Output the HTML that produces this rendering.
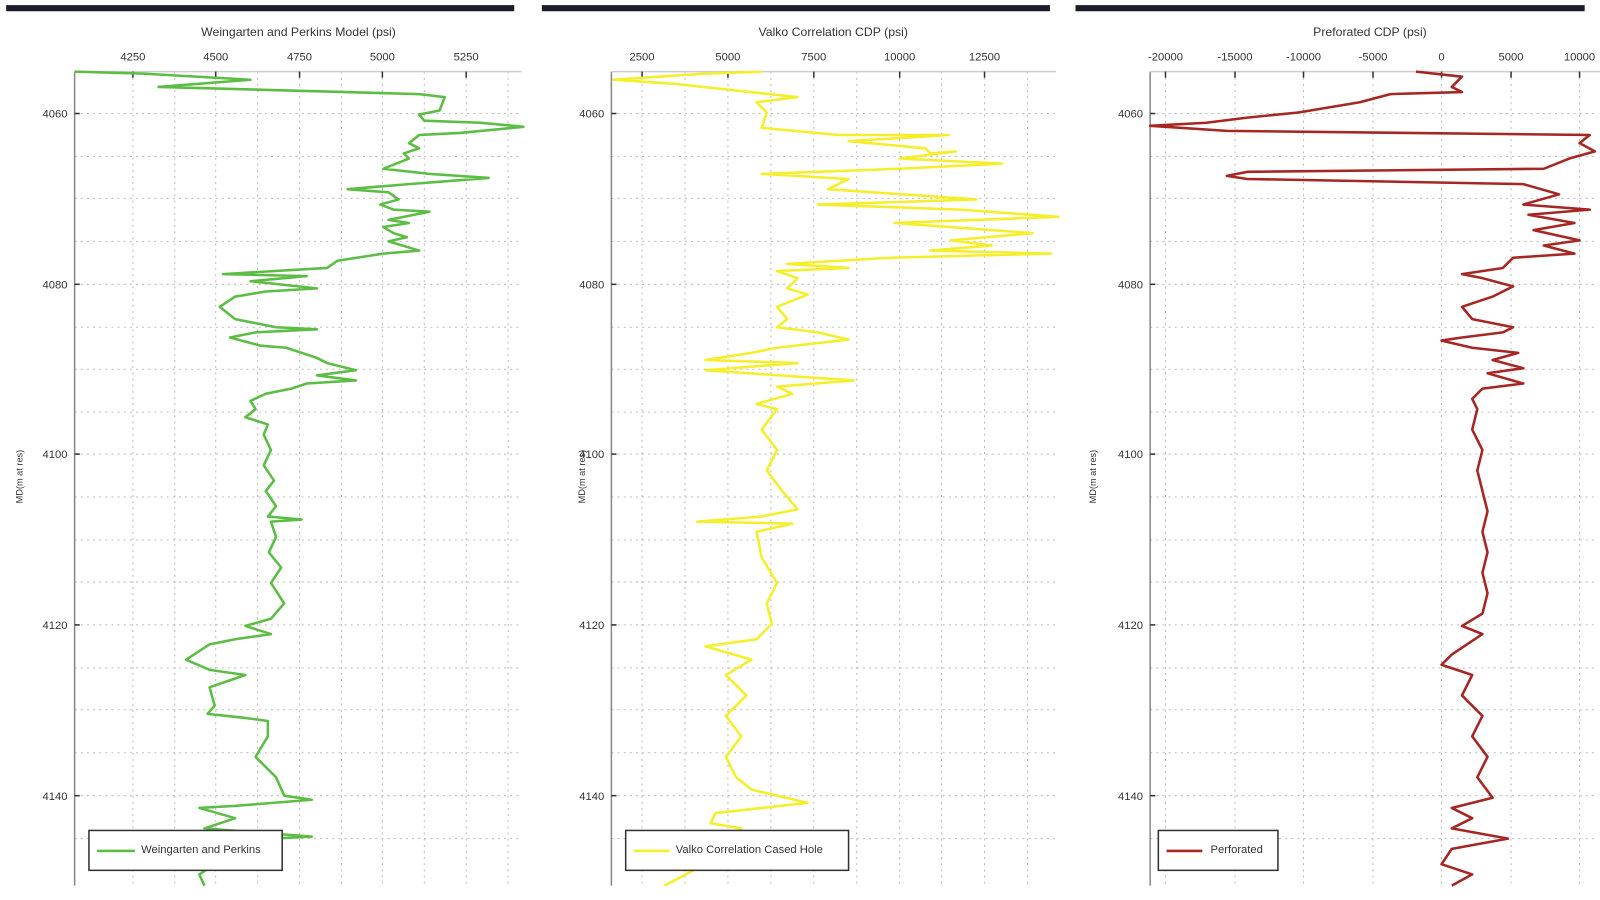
<!DOCTYPE html>
<html><head><meta charset="utf-8"><style>
html,body{margin:0;padding:0;background:#fff;width:1600px;height:900px;overflow:hidden}
svg{display:block}
text{font-family:"Liberation Sans",sans-serif;fill:#333}
</style></head><body>
<svg width="1600" height="900" viewBox="0 0 1565 880" preserveAspectRatio="none" xmlns="http://www.w3.org/2000/svg">
<rect width="1565" height="880" fill="#fff"/>
<!-- dark bars -->
<rect x="6" y="5" width="497" height="6" fill="#1a1d28"/>
<rect x="530" y="5" width="497" height="6" fill="#1a1d28"/>
<rect x="1052" y="5" width="498" height="6" fill="#1a1d28"/>

<g stroke="#bbb" stroke-width="1" stroke-dasharray="2,4">
<!-- horizontal grid for each panel -->
<g id="hg">
<line x1="73" x2="510" y1="111" y2="111"/><line x1="73" x2="510" y1="153" y2="153"/>
<line x1="73" x2="510" y1="194" y2="194"/><line x1="73" x2="510" y1="236" y2="236"/>
<line x1="73" x2="510" y1="278" y2="278"/><line x1="73" x2="510" y1="320" y2="320"/>
<line x1="73" x2="510" y1="361" y2="361"/><line x1="73" x2="510" y1="403" y2="403"/>
<line x1="73" x2="510" y1="444" y2="444"/><line x1="73" x2="510" y1="486" y2="486"/>
<line x1="73" x2="510" y1="528" y2="528"/><line x1="73" x2="510" y1="569" y2="569"/>
<line x1="73" x2="510" y1="611" y2="611"/><line x1="73" x2="510" y1="653" y2="653"/>
<line x1="73" x2="510" y1="694" y2="694"/><line x1="73" x2="510" y1="736" y2="736"/>
<line x1="73" x2="510" y1="778" y2="778"/><line x1="73" x2="510" y1="820" y2="820"/>
</g>
<use href="#hg" transform="translate(525,0)"/>
<use href="#hg" transform="translate(1052,0)"/>
<!-- vertical grid -->
<line x1="130" x2="130" y1="70" y2="866"/><line x1="171" x2="171" y1="70" y2="866"/>
<line x1="211" x2="211" y1="70" y2="866"/><line x1="252" x2="252" y1="70" y2="866"/>
<line x1="293" x2="293" y1="70" y2="866"/><line x1="334" x2="334" y1="70" y2="866"/>
<line x1="374" x2="374" y1="70" y2="866"/><line x1="415" x2="415" y1="70" y2="866"/>
<line x1="456" x2="456" y1="70" y2="866"/><line x1="497" x2="497" y1="70" y2="866"/>
<line x1="628" x2="628" y1="70" y2="866"/><line x1="670" x2="670" y1="70" y2="866"/>
<line x1="712" x2="712" y1="70" y2="866"/><line x1="754" x2="754" y1="70" y2="866"/>
<line x1="796" x2="796" y1="70" y2="866"/><line x1="838" x2="838" y1="70" y2="866"/>
<line x1="880" x2="880" y1="70" y2="866"/><line x1="921" x2="921" y1="70" y2="866"/>
<line x1="963" x2="963" y1="70" y2="866"/><line x1="1005" x2="1005" y1="70" y2="866"/>
<line x1="1140" x2="1140" y1="70" y2="866"/><line x1="1208" x2="1208" y1="70" y2="866"/>
<line x1="1275" x2="1275" y1="70" y2="866"/><line x1="1343" x2="1343" y1="70" y2="866"/>
<line x1="1410" x2="1410" y1="70" y2="866"/><line x1="1478" x2="1478" y1="70" y2="866"/>
<line x1="1545" x2="1545" y1="70" y2="866"/>
</g>

<!-- axes -->
<g stroke="#888" stroke-width="1.5">
<line x1="73" y1="70" x2="73" y2="866"/><line x1="73" y1="70" x2="510" y2="70" stroke="#ccc"/>
<line x1="598" y1="70" x2="598" y2="866"/><line x1="598" y1="70" x2="1033" y2="70" stroke="#ccc"/>
<line x1="1125" y1="70" x2="1125" y2="866"/><line x1="1125" y1="70" x2="1565" y2="70" stroke="#ccc"/>
</g>
<g stroke="#333" stroke-width="1.5">
<line x1="130" y1="70" x2="130" y2="76"/><line x1="211" y1="70" x2="211" y2="76"/><line x1="293" y1="70" x2="293" y2="76"/><line x1="374" y1="70" x2="374" y2="76"/><line x1="456" y1="70" x2="456" y2="76"/>
<line x1="628" y1="70" x2="628" y2="76"/><line x1="712" y1="70" x2="712" y2="76"/><line x1="796" y1="70" x2="796" y2="76"/><line x1="880" y1="70" x2="880" y2="76"/><line x1="963" y1="70" x2="963" y2="76"/>
<line x1="1140" y1="70" x2="1140" y2="76"/><line x1="1208" y1="70" x2="1208" y2="76"/><line x1="1275" y1="70" x2="1275" y2="76"/><line x1="1343" y1="70" x2="1343" y2="76"/><line x1="1410" y1="70" x2="1410" y2="76"/><line x1="1478" y1="70" x2="1478" y2="76"/><line x1="1545" y1="70" x2="1545" y2="76"/>
<line x1="73" y1="111" x2="78" y2="111"/><line x1="73" y1="278" x2="78" y2="278"/><line x1="73" y1="444" x2="78" y2="444"/><line x1="73" y1="611" x2="78" y2="611"/><line x1="73" y1="778" x2="78" y2="778"/>
<line x1="598" y1="111" x2="603" y2="111"/><line x1="598" y1="278" x2="603" y2="278"/><line x1="598" y1="444" x2="603" y2="444"/><line x1="598" y1="611" x2="603" y2="611"/><line x1="598" y1="778" x2="603" y2="778"/>
<line x1="1125" y1="111" x2="1130" y2="111"/><line x1="1125" y1="278" x2="1130" y2="278"/><line x1="1125" y1="444" x2="1130" y2="444"/><line x1="1125" y1="611" x2="1130" y2="611"/><line x1="1125" y1="778" x2="1130" y2="778"/>
</g>

<!-- titles & labels -->
<g font-size="12" text-anchor="middle">
<text x="292" y="35">Weingarten and Perkins Model (psi)</text>
<text x="815" y="35">Valko Correlation CDP (psi)</text>
<text x="1340" y="35">Preforated CDP (psi)</text>
</g>
<g font-size="11" text-anchor="middle">
<text x="130" y="59">4250</text><text x="211" y="59">4500</text><text x="293" y="59">4750</text><text x="374" y="59">5000</text><text x="456" y="59">5250</text>
<text x="628" y="59">2500</text><text x="712" y="59">5000</text><text x="796" y="59">7500</text><text x="880" y="59">10000</text><text x="963" y="59">12500</text>
<text x="1140" y="59">-20000</text><text x="1208" y="59">-15000</text><text x="1275" y="59">-10000</text><text x="1343" y="59">-5000</text><text x="1410" y="59">0</text><text x="1478" y="59">5000</text><text x="1545" y="59">10000</text>
</g>
<g font-size="11" text-anchor="end">
<text x="66" y="115">4060</text><text x="66" y="282">4080</text><text x="66" y="448">4100</text><text x="66" y="615">4120</text><text x="66" y="782">4140</text>
<text x="591" y="115">4060</text><text x="591" y="282">4080</text><text x="591" y="448">4100</text><text x="591" y="615">4120</text><text x="591" y="782">4140</text>
<text x="1118" y="115">4060</text><text x="1118" y="282">4080</text><text x="1118" y="448">4100</text><text x="1118" y="615">4120</text><text x="1118" y="782">4140</text>
</g>
<g font-size="9" text-anchor="middle">
<text transform="translate(22,466) rotate(-90)">MD(m at res)</text>
<text transform="translate(572,466) rotate(-90)">MD(m at res)</text>
<text transform="translate(1072,466) rotate(-90)">MD(m at res)</text>
</g>

<!-- series -->
<polyline fill="none" stroke="#5cbd45" stroke-width="2.5" stroke-linejoin="round" points="73,70 140,72 245,78 155,85 410,92 435,95 430,108 410,112 415,118 470,120 512,124 450,130 410,132 400,140 410,145 395,150 400,155 375,165 420,170 478,174 400,180 340,185 380,188 390,195 372,200 385,205 420,207 380,215 400,218 375,222 385,228 398,232 380,236 410,245 375,248 330,255 320,262 218,268 300,270 245,275 310,282 260,285 230,290 215,300 230,312 270,320 310,322 250,325 225,330 255,338 280,340 295,345 310,350 320,355 348,362 310,367 348,372 300,375 285,380 260,385 245,392 250,400 240,408 262,415 258,425 265,440 258,455 268,470 260,480 270,495 262,505 295,508 265,510 270,525 263,540 275,555 265,570 278,590 265,605 240,612 265,620 230,625 205,630 182,645 205,655 240,660 205,672 210,690 203,698 240,702 262,705 262,720 250,740 270,760 278,778 305,782 230,788 195,790 230,800 200,810 305,818 265,820 200,830 210,845 195,855 200,866"/>
<polyline fill="none" stroke="#f5ee2a" stroke-width="2.5" stroke-linejoin="round" points="745,70 690,72 600,78 660,82 780,95 740,100 750,110 745,125 820,132 928,132 830,138 905,145 910,150 935,148 880,155 980,160 880,165 745,170 830,175 810,185 955,195 800,200 940,205 1035,212 875,218 1010,228 930,235 970,240 910,245 1028,248 870,252 770,258 830,262 760,265 780,272 770,282 790,288 760,300 770,312 760,320 800,325 830,332 760,340 735,345 690,352 780,355 690,362 835,372 760,378 775,385 740,395 760,400 745,420 760,440 750,460 765,480 780,498 745,505 682,510 775,512 740,520 745,545 760,570 750,590 755,610 740,625 690,632 735,645 710,660 730,680 710,700 725,720 710,740 720,760 735,772 790,785 700,795 695,805 725,810 705,822 690,840 680,850 650,866"/>
<polyline fill="none" stroke="#a52622" stroke-width="2.5" stroke-linejoin="round" points="1385,70 1430,75 1420,85 1430,90 1360,92 1330,100 1300,105 1270,110 1220,115 1180,120 1125,123 1200,128 1555,132 1545,140 1560,148 1535,155 1510,165 1220,168 1200,172 1220,175 1490,180 1525,190 1490,200 1555,205 1495,210 1540,218 1500,225 1545,235 1510,240 1540,248 1480,252 1470,262 1430,268 1450,272 1480,280 1460,290 1430,300 1440,312 1480,320 1470,325 1430,330 1410,333 1440,340 1485,345 1460,352 1490,360 1455,365 1490,375 1450,380 1440,390 1445,400 1440,420 1450,440 1445,460 1450,480 1455,500 1450,520 1455,540 1450,560 1455,580 1450,600 1430,612 1450,620 1420,640 1410,650 1440,660 1430,680 1450,700 1440,720 1455,740 1445,760 1460,780 1420,790 1440,800 1420,810 1475,820 1420,830 1410,845 1440,855 1420,866"/>

<!-- legends -->
<g font-size="11">
<rect x="87" y="812" width="189" height="39" fill="#fff" stroke="#333" stroke-width="1.5"/>
<line x1="95" y1="832" x2="132" y2="832" stroke="#5cbd45" stroke-width="2.5"/>
<text x="138" y="834">Weingarten and Perkins</text>
<rect x="612" y="812" width="218" height="39" fill="#fff" stroke="#333" stroke-width="1.5"/>
<line x1="620" y1="832" x2="655" y2="832" stroke="#f5ee2a" stroke-width="2.5"/>
<text x="661" y="834">Valko Correlation Cased Hole</text>
<rect x="1133" y="812" width="117" height="39" fill="#fff" stroke="#333" stroke-width="1.5"/>
<line x1="1141" y1="832" x2="1176" y2="832" stroke="#a52622" stroke-width="2.5"/>
<text x="1184" y="834">Perforated</text>
</g>
</svg>
</body></html>
